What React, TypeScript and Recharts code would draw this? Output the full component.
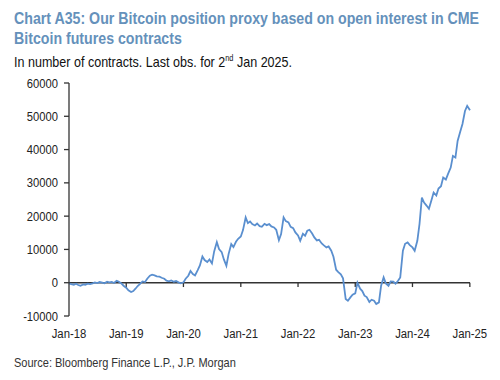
import { LineChart, Line, XAxis, YAxis, ReferenceLine } from "recharts";

// semi-monthly observations, 1st and 15th of each month
const years = [2018, 2019, 2020, 2021, 2022, 2023, 2024];

const values2018 = [-200, -400, -600, -300, -700, -900, -500, -600, -300, -400, -200, 100, -100, 200, 0, -200, 300, 100, 200, -100, 600, 300, -200, -900];
const values2019 = [-1500, -2300, -2800, -2500, -1800, -1000, -300, 400, 200, 1200, 2100, 2400, 2200, 1900, 1800, 1500, 1200, 600, 400, 700, 300, 500, 100, -200];
const values2020 = [100, 1200, 2100, 3500, 2600, 2200, 3800, 5200, 7900, 6800, 6200, 7000, 5800, 9400, 12200, 10100, 9200, 7000, 5100, 8600, 11600, 10700, 12300, 13200];
const values2021 = [13900, 15800, 19600, 17900, 18400, 17600, 17200, 17800, 17000, 16800, 17700, 17300, 17600, 16900, 16600, 15900, 12800, 14600, 19600, 18500, 18100, 16800, 16400, 15100];
const values2022 = [14200, 12600, 14700, 14100, 15600, 15900, 14800, 13600, 12700, 12900, 11800, 11200, 10600, 10900, 9600, 7800, 3900, 3200, 2500, 1300, -4900, -5400, -4400, -3600];
const values2023 = [-3200, 0, -1800, -2500, -3900, -4300, -5800, -5100, -5400, -6400, -5900, -900, 1600, -200, -900, 400, 300, -300, 600, 1600, 9600, 11700, 12100, 11300];
const values2024 = [10600, 9600, 12600, 17700, 25600, 24100, 23100, 22200, 24800, 27100, 26200, 28300, 29000, 31600, 31000, 32700, 34600, 38100, 37600, 42600, 45400, 47700, 51600, 53100];
const lastDate = "2025-01-02";
const lastValue = 51800;

const yTicks = [-10000, 0, 10000, 20000, 30000, 40000, 50000, 60000];
const xTickYears = [2018, 2019, 2020, 2021, 2022, 2023, 2024, 2025];

const allValues = [values2018, values2019, values2020, values2021, values2022, values2023, values2024];

const data: { t: number; v: number }[] = [];
years.forEach((yr, i) => {
  allValues[i].forEach((v, j) => {
    const month = Math.floor(j / 2);
    const day = j % 2 === 0 ? 1 : 15;
    data.push({ t: Date.UTC(yr, month, day), v });
  });
});
data.push({ t: Date.parse(lastDate), v: lastValue });

const xTicks = xTickYears.map((y) => Date.UTC(y, 0, 1));
const fmtX = (t: number) => "Jan-" + String(new Date(t).getUTCFullYear()).slice(2);

const font = "'Liberation Sans', Arial, sans-serif";
const narrow = (s: number) => `scaleX(${s})`;

// Arial Narrow look-alike: squeeze the text horizontally
const XTick = (props: any) => {
  const { x, y, payload } = props;
  return (
    <text transform={`translate(${x} ${y + 10}) scale(0.84 1)`} textAnchor="middle" fill="#222" fontSize={13.5} fontFamily={font}>
      {fmtX(payload.value)}
    </text>
  );
};

const YTick = (props: any) => {
  const { x, y, payload } = props;
  return (
    <text transform={`translate(${x} ${y + 4.5}) scale(0.83 1)`} textAnchor="end" fill="#222" fontSize={13.5} fontFamily={font}>
      {payload.value}
    </text>
  );
};

export default function App() {
  return (
    <div style={{ position: "absolute", left: 0, top: 0, width: 500, height: 380, background: "#fff", fontFamily: font }}>
      <div style={{ position: "absolute", left: 14, top: 9, fontSize: 17, lineHeight: "19.5px", fontWeight: "bold", color: "#6591bb", whiteSpace: "nowrap", transform: narrow(0.834), transformOrigin: "0 0" }}>
        Chart A35: Our Bitcoin position proxy based on open interest in CME
        <br />
        Bitcoin futures contracts
      </div>
      <div style={{ position: "absolute", left: 14, top: 53, fontSize: 14.5, lineHeight: "18px", color: "#111", whiteSpace: "nowrap", transform: narrow(0.865), transformOrigin: "0 0" }}>
        In number of contracts. Last obs. for 2<sup style={{ fontSize: 8.5, verticalAlign: "super", lineHeight: 0 }}>nd</sup> Jan 2025.
      </div>
      <div style={{ position: "absolute", left: 14, top: 355, fontSize: 13, lineHeight: "16px", color: "#333", whiteSpace: "nowrap", transform: narrow(0.847), transformOrigin: "0 0" }}>
        Source: Bloomberg Finance L.P., J.P. Morgan
      </div>
      <div style={{ position: "absolute", left: 0, top: 0 }}>
        <LineChart width={500} height={380} data={data} margin={{ top: 83, right: 30, bottom: 34, left: 9 }}>
          <XAxis
            dataKey="t"
            type="number"
            scale="time"
            domain={[xTicks[0], xTicks[xTicks.length - 1]]}
            ticks={xTicks}
            axisLine={false}
            tickLine={false}
            tickMargin={6}
            height={30}
            interval={0}
            tick={<XTick />}
          />
          <YAxis
            domain={[-10000, 60000]}
            ticks={yTicks}
            width={60}
            interval={0}
            tickSize={5}
            tickMargin={6}
            axisLine={{ stroke: "#333", strokeWidth: 1.3 }}
            tickLine={{ stroke: "#333", strokeWidth: 1.3 }}
            tick={<YTick />}
          />
          <ReferenceLine y={0} stroke="#333" strokeWidth={1.5} ifOverflow="extendDomain" />
          {xTicks.slice(1).map((t) => (
            <ReferenceLine
              key={t}
              segment={[
                { x: t, y: 0 },
                { x: t, y: -1300 },
              ]}
              stroke="#333"
              strokeWidth={1.3}
            />
          ))}
          <Line type="linear" dataKey="v" stroke="#5a8fcf" strokeWidth={1.8} dot={false} isAnimationActive={false} />
        </LineChart>
      </div>
    </div>
  );
}
